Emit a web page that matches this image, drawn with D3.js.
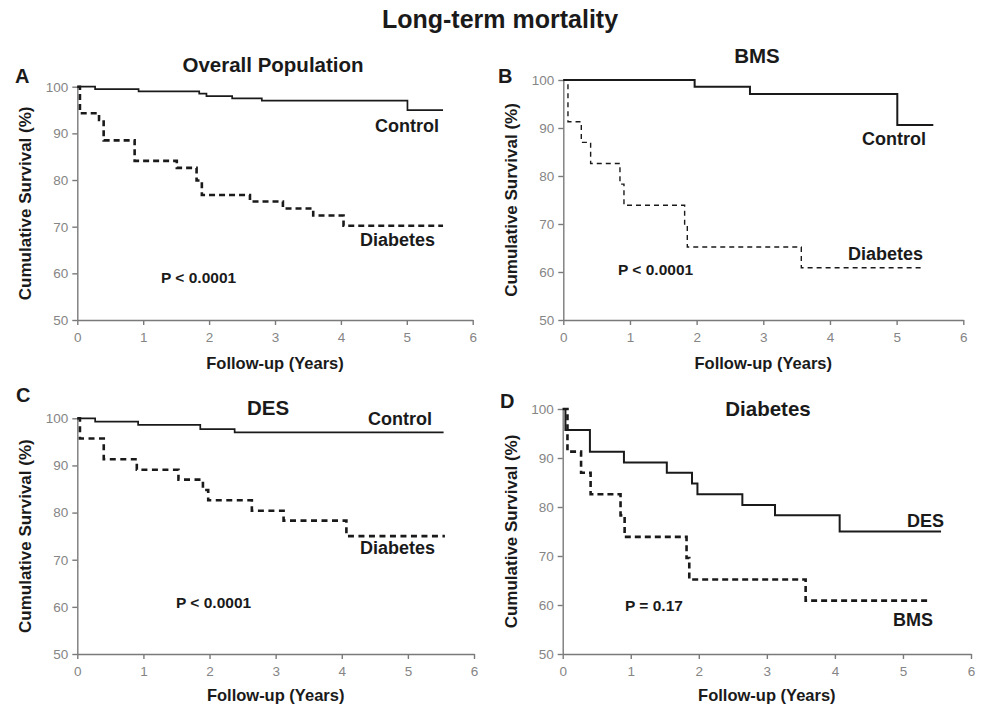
<!DOCTYPE html>
<html>
<head>
<meta charset="utf-8">
<script src="https://cdn.jsdelivr.net/npm/d3@7"></script>
<style>
  html, body { margin: 0; padding: 0; background: #fff; }
  svg { display: block; font-family: "Liberation Sans", Arial, Helvetica, sans-serif; }
</style>
</head>
<body>
<svg id="chart" width="984" height="707"></svg>
<script>
// Kaplan–Meier step data: [follow-up years, cumulative survival %]
const overallControl  = [[0,100],[0.27,99.5],[0.93,99.0],[1.85,98.5],[1.96,98.0],[2.35,97.5],[2.80,97.0],[5.01,95.0],[5.55,95.0]];
const overallDiabetes = [[0,100],[0.04,94.3],[0.33,92.9],[0.40,88.5],[0.87,84.1],[1.51,82.6],[1.81,79.9],[1.89,76.8],[2.62,75.4],[3.12,73.9],[3.58,72.4],[4.04,70.2],[5.55,70.2]];
const bmsControl      = [[0,100],[1.97,98.6],[2.80,97.1],[5.01,90.6],[5.55,90.6]];
const bmsDiabetes     = [[0,100],[0.07,91.3],[0.27,87.0],[0.41,82.6],[0.85,78.3],[0.91,73.9],[1.82,69.6],[1.86,65.2],[3.57,60.9],[5.40,60.9]];
const desControl      = [[0,100],[0.27,99.3],[0.92,98.6],[1.86,97.7],[2.38,97.0],[5.54,97.0]];
const desDiabetes     = [[0,100],[0.04,95.7],[0.40,91.3],[0.90,89.1],[1.53,87.0],[1.90,84.8],[1.98,82.6],[2.64,80.4],[3.12,78.3],[4.07,75.0],[5.56,75.0]];

const xTicks = [0, 1, 2, 3, 4, 5, 6];
const yTicks = [50, 60, 70, 80, 90, 100];
const pValues = ["P < 0.0001", "P < 0.0001", "P < 0.0001", "P = 0.17"];

const svg = d3.select("#chart");
const ink = "#1a1a1a";
const axisGrey = "#7a7a7a";

svg.append("text")
  .attr("x", 500).attr("y", 28)
  .attr("text-anchor", "middle")
  .attr("font-size", 25).attr("font-weight", "bold").attr("fill", ink)
  .text("Long-term mortality");

const panels = [
  {
    letter: "A", title: "Overall Population", p: pValues[0],
    x0: 77.3, x1: 472.7, yTop: 86.7, yBot: 320,
    letterPos: [15, 83], titlePos: [273, 72], yTitleX: 31, xTitleY: 369, xLabelY: 342,
    series: [
      { data: overallControl, dashed: false, w: 1.7, label: "Control", lx: 439, ly: 132 },
      { data: overallDiabetes, dashed: true, w: 2.6, dash: "6,4", label: "Diabetes", lx: 435, ly: 246 }
    ],
    pPos: [161, 283]
  },
  {
    letter: "B", title: "BMS", p: pValues[1],
    x0: 563.3, x1: 963.3, yTop: 80, yBot: 320,
    letterPos: [498, 83], titlePos: [757, 63], yTitleX: 517, xTitleY: 369, xLabelY: 342,
    series: [
      { data: bmsControl, dashed: false, w: 2, label: "Control", lx: 926, ly: 145 },
      { data: bmsDiabetes, dashed: true, w: 1.4, dash: "5,4", label: "Diabetes", lx: 923, ly: 260 }
    ],
    pPos: [618, 275]
  },
  {
    letter: "C", title: "DES", p: pValues[2],
    x0: 77.3, x1: 474, yTop: 418.3, yBot: 654,
    letterPos: [16, 402], titlePos: [268, 415], yTitleX: 31, xTitleY: 701, xLabelY: 676,
    series: [
      { data: desControl, dashed: false, w: 1.7, label: "Control", lx: 432, ly: 425 },
      { data: desDiabetes, dashed: true, w: 2.6, dash: "6,4.5", label: "Diabetes", lx: 435, ly: 554 }
    ],
    pPos: [176, 608]
  },
  {
    letter: "D", title: "Diabetes", p: pValues[3],
    x0: 562.7, x1: 971, yTop: 409, yBot: 654,
    letterPos: [500, 408], titlePos: [768, 416], yTitleX: 517, xTitleY: 701, xLabelY: 676,
    series: [
      { data: desDiabetes, dashed: false, w: 2, label: "DES", lx: 944, ly: 527 },
      { data: bmsDiabetes, dashed: true, w: 2.6, dash: "6,4", label: "BMS", lx: 933, ly: 626 }
    ],
    pPos: [625, 611]
  }
];

panels.forEach(pn => {
  const x = d3.scaleLinear().domain([0, 6]).range([pn.x0, pn.x1]);
  const y = d3.scaleLinear().domain([50, 100]).range([pn.yBot, pn.yTop]);
  const g = svg.append("g");

  // axes
  const yAxis = g.append("g")
    .attr("transform", `translate(${pn.x0},0)`)
    .call(d3.axisLeft(y).tickValues(yTicks).tickFormat(d3.format("d"))
      .tickSize(5).tickPadding(4).tickSizeOuter(0));
  const xAxis = g.append("g")
    .attr("transform", `translate(0,${pn.yBot})`)
    .call(d3.axisBottom(x).tickValues(xTicks).tickFormat(d3.format("d"))
      .tickSize(5).tickPadding(4).tickSizeOuter(0));
  [yAxis, xAxis].forEach(a => {
    a.select(".domain").attr("stroke", axisGrey).attr("stroke-width", 1.4);
    a.selectAll(".tick line").attr("stroke", axisGrey).attr("stroke-width", 1.4);
    a.selectAll(".tick text")
      .attr("fill", "#858585").attr("font-size", 13.5)
      .attr("font-family", "'Liberation Sans', Arial, sans-serif");
  });
  xAxis.selectAll(".tick text").attr("dy", null).attr("y", pn.xLabelY - pn.yBot);

  // survival step curves
  const line = d3.line()
    .x(d => x(d[0]))
    .y(d => y(d[1]))
    .curve(d3.curveStepAfter);
  pn.series.forEach(s => {
    g.append("path")
      .datum(s.data)
      .attr("d", line)
      .attr("fill", "none")
      .attr("stroke", ink)
      .attr("stroke-width", s.w)
      .attr("stroke-dasharray", s.dashed ? s.dash : null);
    g.append("text")
      .attr("x", s.lx).attr("y", s.ly)
      .attr("text-anchor", "end")
      .attr("font-size", 18).attr("font-weight", "bold").attr("fill", ink)
      .text(s.label);
  });

  // labels
  g.append("text")
    .attr("x", pn.letterPos[0]).attr("y", pn.letterPos[1])
    .attr("font-size", 20).attr("font-weight", "bold").attr("fill", ink)
    .text(pn.letter);
  g.append("text")
    .attr("x", pn.titlePos[0]).attr("y", pn.titlePos[1])
    .attr("text-anchor", "middle")
    .attr("font-size", 20.5).attr("font-weight", "bold").attr("fill", ink)
    .text(pn.title);
  g.append("text")
    .attr("x", pn.pPos[0]).attr("y", pn.pPos[1])
    .attr("font-size", 15.5).attr("font-weight", "bold").attr("fill", ink)
    .text(pn.p);
  g.append("text")
    .attr("x", (pn.x0 + pn.x1) / 2).attr("y", pn.xTitleY)
    .attr("text-anchor", "middle")
    .attr("font-size", 16.5).attr("font-weight", "bold").attr("fill", ink)
    .text("Follow-up (Years)");
  g.append("text")
    .attr("transform", `translate(${pn.yTitleX},${(pn.yTop + pn.yBot) / 2}) rotate(-90)`)
    .attr("text-anchor", "middle")
    .attr("font-size", 17).attr("font-weight", "bold").attr("fill", ink)
    .text("Cumulative Survival (%)");
});
</script>
</body>
</html>
